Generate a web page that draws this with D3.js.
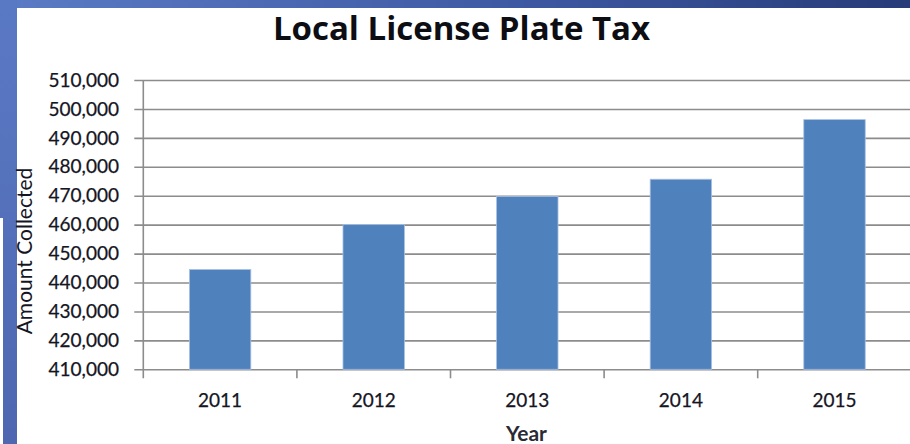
<!DOCTYPE html>
<html>
<head>
<meta charset="utf-8">
<script src="https://cdn.jsdelivr.net/npm/d3@7.9.0/dist/d3.min.js"></script>
<style>
  html, body { margin: 0; padding: 0; background: #fff; }
  svg { display: block; }
  text { font-family: Lato, "Open Sans", sans-serif; }
  text.title { font-family: "Open Sans", Lato, sans-serif; }
</style>
</head>
<body>
<svg id="chart" width="910" height="444"></svg>
<script>
// data
const years = ['2011', '2012', '2013', '2014', '2015'];
const amounts = [444500, 460000, 469700, 475700, 496300];
const yTicks = [410000, 420000, 430000, 440000, 450000, 460000, 470000, 480000, 490000, 500000, 510000];

const W = 910, H = 444;
const svg = d3.select('#chart');

// slide background: blue bar on top and on the left
const defs = svg.append('defs');
const topGrad = defs.append('linearGradient').attr('id', 'topGrad');
topGrad.append('stop').attr('offset', '0%').attr('stop-color', '#5b7bc7');
topGrad.append('stop').attr('offset', '55%').attr('stop-color', '#3f5aa5');
topGrad.append('stop').attr('offset', '100%').attr('stop-color', '#263b78');
const leftGrad = defs.append('linearGradient').attr('id', 'leftGrad')
  .attr('x1', 0).attr('y1', 0).attr('x2', 0).attr('y2', 1);
leftGrad.append('stop').attr('offset', '0%').attr('stop-color', '#5a79c5');
leftGrad.append('stop').attr('offset', '100%').attr('stop-color', '#4e67b0');

svg.append('rect').attr('width', W).attr('height', H).attr('fill', '#fff');
svg.append('rect').attr('width', W).attr('height', 8).attr('fill', 'url(#topGrad)');
svg.append('rect').attr('width', 17).attr('height', H).attr('fill', 'url(#leftGrad)');
svg.append('rect').attr('y', 218).attr('width', 3).attr('height', H - 218).attr('fill', '#fff');

// plot area
const x0 = 143.3, x1 = 911.3, yTop = 80, yBot = 369.3;
const x = d3.scaleBand().domain(years).range([x0, x1]).paddingInner(0.6).paddingOuter(0.3);
const xEdge = d3.scaleBand().domain(years).range([x0, x1]);
const y = d3.scaleLinear().domain([410000, 510000]).range([yBot, yTop]);

const grey = '#8c8c8c';
const ink = '#15151f';

// gridlines with left ticks
svg.append('g')
  .attr('transform', `translate(${x0},0)`)
  .call(d3.axisLeft(y).tickValues(yTicks).tickSize(-(x1 - x0)).tickFormat(''))
  .call(g => g.select('.domain').remove())
  .call(g => g.selectAll('line').attr('stroke', grey).attr('stroke-width', 1.6).attr('x2', x1 - x0).attr('x1', -9));

// y tick labels
svg.append('g')
  .selectAll('text')
  .data(yTicks)
  .join('text')
  .attr('x', 119)
  .attr('y', d => y(d))
  .attr('dy', '0.35em')
  .attr('text-anchor', 'end')
  .attr('font-size', 19)
  .attr('fill', ink)
  .attr('stroke', ink)
  .attr('stroke-width', 0.25)
  .text(d => d3.format(',')(d));

// bars
svg.append('g')
  .selectAll('rect')
  .data(amounts)
  .join('rect')
  .attr('x', (d, i) => x(years[i]))
  .attr('width', x.bandwidth())
  .attr('y', d => y(d))
  .attr('height', d => yBot - y(d))
  .attr('fill', '#4f81bd')
  .attr('stroke', '#a9c1e3')
  .attr('stroke-width', 0.8);

// y axis line
svg.append('line')
  .attr('x1', x0).attr('x2', x0).attr('y1', yTop).attr('y2', yBot + 9)
  .attr('stroke', grey).attr('stroke-width', 1.6);

// x axis category ticks
svg.append('g')
  .selectAll('line')
  .data(years.slice(1))
  .join('line')
  .attr('x1', d => xEdge(d)).attr('x2', d => xEdge(d))
  .attr('y1', yBot).attr('y2', yBot + 9)
  .attr('stroke', grey).attr('stroke-width', 1.6);

// x tick labels
svg.append('g')
  .selectAll('text')
  .data(years)
  .join('text')
  .attr('x', d => x(d) + x.bandwidth() / 2)
  .attr('y', 407)
  .attr('text-anchor', 'middle')
  .attr('font-size', 19)
  .attr('fill', ink)
  .attr('stroke', ink)
  .attr('stroke-width', 0.25)
  .text(d => d);

// title
svg.append('text')
  .attr('class', 'title')
  .attr('x', 461.5).attr('y', 39.5)
  .attr('text-anchor', 'middle')
  .attr('font-size', 33)
  .attr('font-weight', 'bold')
  .attr('fill', '#0d0d14')
  .text('Local License Plate Tax');

// axis titles
svg.append('text')
  .attr('transform', 'translate(32,251) rotate(-90)')
  .attr('text-anchor', 'middle')
  .attr('font-size', 21)
  .attr('fill', ink)
  .text('Amount Collected');

svg.append('text')
  .attr('x', 526.5).attr('y', 441)
  .attr('text-anchor', 'middle')
  .attr('font-size', 21)
  .attr('font-weight', 'bold')
  .attr('fill', '#2a2a35')
  .text('Year');
</script>
</body>
</html>
